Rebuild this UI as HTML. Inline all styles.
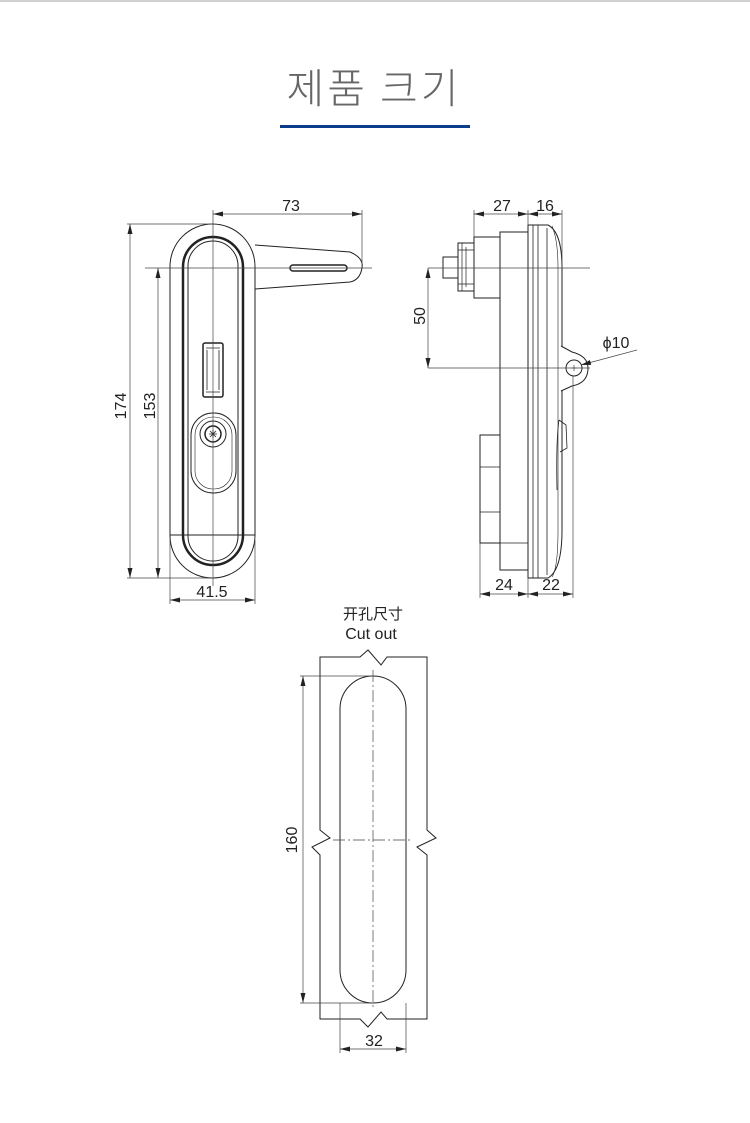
<!DOCTYPE html>
<html><head><meta charset="utf-8"><style>
html,body{margin:0;padding:0;background:#fff;}
body{width:750px;height:1123px;position:relative;overflow:hidden;}
</style></head><body>
<svg width="750" height="1123" viewBox="0 0 750 1123" xmlns="http://www.w3.org/2000/svg" style="position:absolute;left:0;top:0">
<defs>
<marker id="a" markerWidth="10" markerHeight="6" refX="10" refY="3" orient="auto-start-reverse" markerUnits="userSpaceOnUse">
<path d="M0,0.5 L10,3 L0,5.5 Z" fill="#222"/></marker>
</defs>
<rect x="0" y="0" width="750" height="2" fill="#d0d0d0"/>
<text x="374" y="103" text-anchor="middle" font-family="Noto Sans CJK KR, sans-serif" font-weight="300" font-size="41" fill="#666" letter-spacing="3">제품 크기</text>
<rect x="280" y="125" width="190" height="3" fill="#0b3d8c"/>

<g fill="none" stroke="#222" stroke-width="1">
<path d="M255,245 L350,252 Q364,258 362,268 Q360,280 350,282 L255,289" fill="#fff"/>
<rect x="170" y="224" width="85" height="354" rx="42.5" fill="#fff"/>
<rect x="183" y="237" width="60" height="328" rx="30" stroke-width="2.5"/>
<rect x="188" y="241" width="50" height="320" rx="25"/>
<line x1="170" y1="535" x2="255" y2="535"/>
<rect x="290" y="265" width="57" height="6" rx="3" stroke-width="1.5"/>
<rect x="203" y="343" width="20" height="54" rx="2" stroke-width="1.5"/>
<path d="M206,348 L220,348 M206,392 L220,392 M207,350 L207,390 M219,350 L219,390" stroke-width="0.8"/>
<rect x="191" y="413" width="45" height="80" rx="22"/>
<rect x="195" y="417" width="37" height="72" rx="18" stroke-width="0.6"/>
<circle cx="213" cy="434" r="13"/>
<circle cx="213" cy="434" r="8" stroke-width="1.5"/>
<path d="M209,434 L217,434 M213,430 L213,438 M210,431 L216,437 M216,431 L210,437" stroke-width="0.8"/>
<g stroke-width="0.7" stroke="#444">
<line x1="145" y1="268" x2="372" y2="268"/>
<line x1="213" y1="210" x2="213" y2="586"/>
<line x1="127" y1="224" x2="213" y2="224"/>
<line x1="127" y1="578" x2="213" y2="578"/>
<line x1="362" y1="210" x2="362" y2="268"/>
<line x1="170" y1="540" x2="170" y2="604"/>
<line x1="255" y1="540" x2="255" y2="604"/>
<line x1="213" y1="214" x2="362" y2="214" marker-start="url(#a)" marker-end="url(#a)"/>
<line x1="130" y1="224" x2="130" y2="578" marker-start="url(#a)" marker-end="url(#a)"/>
<line x1="158" y1="268" x2="158" y2="578" marker-start="url(#a)" marker-end="url(#a)"/>
<line x1="170" y1="600" x2="255" y2="600" marker-start="url(#a)" marker-end="url(#a)"/>
</g>

<path d="M443,257 L458,257 L458,278 L443,278 Z"/>
<rect x="458" y="243" width="16" height="48"/>
<path d="M462,243 L462,291 M466,247 L466,287 M458,250 L474,250 M458,284 L474,284" stroke-width="0.7"/>
<rect x="474" y="237" width="26" height="61"/>
<rect x="500" y="232" width="28" height="338" fill="#fff"/>
<path d="M528,225 L548,225 Q562,232 562,268 L562,530 Q562,570 548,578 L528,578 Z" fill="#fff"/>
<path d="M533,225 L533,578 M538,225 L538,578 M547,228 L547,575" stroke-width="0.8"/>
<path d="M552,226 Q558,240 558,268 L558,530 Q558,568 552,577" stroke-width="0.6"/>
<rect x="480" y="435" width="20" height="108"/>
<path d="M480,467 L500,467 M480,512 L500,512" stroke-width="0.8"/>
<path d="M500,543 L528,543" stroke-width="0.8"/>
<path d="M561,346 L572,352 Q588,356 588,368 Q588,383 572,386 L561,391" fill="#fff"/>
<circle cx="574" cy="368" r="8"/>
<path d="M571,368 L577,368 M574,365 L574,371" stroke-width="0.6"/>
<path d="M559,420 Q556,440 557,490 M559,420 L566,425 L567,448 L560,452" stroke-width="0.8"/>
<g stroke-width="0.7" stroke="#444">
<line x1="428" y1="268" x2="590" y2="268"/>
<line x1="428" y1="368" x2="590" y2="368"/>
<line x1="474" y1="210" x2="474" y2="237"/>
<line x1="528" y1="210" x2="528" y2="225"/>
<line x1="562" y1="210" x2="562" y2="268"/>
<line x1="480" y1="543" x2="480" y2="598"/>
<line x1="528" y1="578" x2="528" y2="598"/>
<line x1="573" y1="376" x2="573" y2="598"/>
<line x1="474" y1="214" x2="528" y2="214" marker-start="url(#a)" marker-end="url(#a)"/>
<line x1="528" y1="214" x2="562" y2="214" marker-start="url(#a)" marker-end="url(#a)"/>
<line x1="428" y1="268" x2="428" y2="368" marker-start="url(#a)" marker-end="url(#a)"/>
<line x1="480" y1="594" x2="528" y2="594" marker-start="url(#a)" marker-end="url(#a)"/>
<line x1="528" y1="594" x2="573" y2="594" marker-start="url(#a)" marker-end="url(#a)"/>
<line x1="637" y1="350" x2="581" y2="365" marker-end="url(#a)"/>
</g>

<path d="M320,657 L360,657 L368,650 L381,665 L387,657 L427,657 L427,830 L436,838 L417,847 L427,855 L427,1019 L387,1019 L381,1012 L368,1027 L360,1019 L320,1019 L320,855 L312,847 L330,838 L320,830 Z"/>
<rect x="340" y="676" width="66" height="327" rx="33"/>
<g stroke-width="0.7" stroke="#444">
<line x1="373" y1="670" x2="373" y2="1010" stroke-dasharray="12,3,2,3"/>
<line x1="333" y1="840" x2="413" y2="840" stroke-dasharray="12,3,2,3"/>
<line x1="300" y1="676" x2="373" y2="676"/>
<line x1="300" y1="1003" x2="373" y2="1003"/>
<line x1="340" y1="1003" x2="340" y2="1053"/>
<line x1="406" y1="1003" x2="406" y2="1053"/>
<line x1="303" y1="676" x2="303" y2="1003" marker-start="url(#a)" marker-end="url(#a)"/>
<line x1="340" y1="1049" x2="406" y2="1049" marker-start="url(#a)" marker-end="url(#a)"/>
</g>
</g>

<g font-family="Liberation Sans, sans-serif" font-size="16" fill="#222" text-anchor="middle">
<text x="291" y="211">73</text>
<text x="212" y="597">41.5</text>
<text transform="translate(126,406) rotate(-90)">174</text>
<text transform="translate(155,406) rotate(-90)">153</text>
<text x="502" y="211">27</text>
<text x="545" y="211">16</text>
<text transform="translate(425,316) rotate(-90)">50</text>
<text x="616" y="348">ϕ10</text>
<text x="504" y="590">24</text>
<text x="551" y="590">22</text>
<text x="373" y="619" font-family="Noto Sans CJK SC, sans-serif" font-size="15">开孔尺寸</text>
<text x="371" y="639">Cut out</text>
<text transform="translate(297,840) rotate(-90)">160</text>
<text x="374" y="1046">32</text>
</g>
</svg>
</body></html>
